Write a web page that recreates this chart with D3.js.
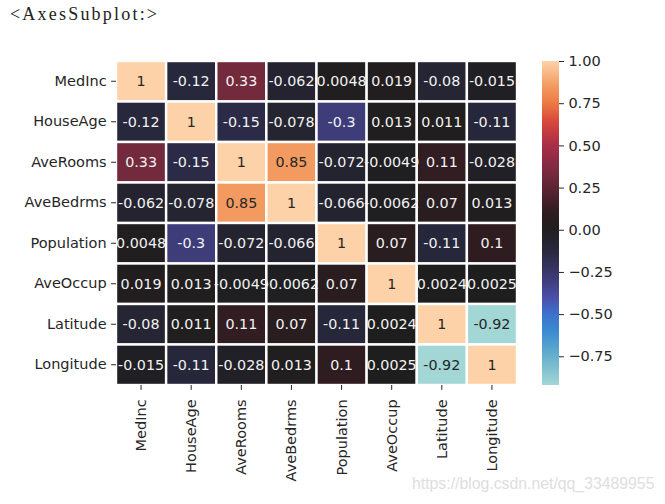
<!DOCTYPE html>
<html>
<head>
<meta charset="utf-8">
<script src="https://cdn.jsdelivr.net/npm/d3@7"></script>
<style>
  html, body { margin: 0; padding: 0; background: #fff; }
  svg { display: block; }
</style>
</head>
<body>
<svg id="chart" width="665" height="504"></svg>
<script>
// ---- data ----
const categories = ["MedInc", "HouseAge", "AveRooms", "AveBedrms", "Population", "AveOccup", "Latitude", "Longitude"];
const rowMedInc     = [1, -0.12, 0.33, -0.062, 0.0048, 0.019, -0.08, -0.015];
const rowHouseAge   = [-0.12, 1, -0.15, -0.078, -0.3, 0.013, 0.011, -0.11];
const rowAveRooms   = [0.33, -0.15, 1, 0.85, -0.072, -0.0049, 0.11, -0.028];
const rowAveBedrms  = [-0.062, -0.078, 0.85, 1, -0.066, -0.0062, 0.07, 0.013];
const rowPopulation = [0.0048, -0.3, -0.072, -0.066, 1, 0.07, -0.11, 0.1];
const rowAveOccup   = [0.019, 0.013, -0.0049, -0.0062, 0.07, 1, 0.0024, 0.0025];
const rowLatitude   = [-0.08, 0.011, 0.11, 0.07, -0.11, 0.0024, 1, -0.92];
const rowLongitude  = [-0.015, -0.11, -0.028, 0.013, 0.1, 0.0025, -0.92, 1];
const matrix = [rowMedInc, rowHouseAge, rowAveRooms, rowAveBedrms, rowPopulation, rowAveOccup, rowLatitude, rowLongitude];
const colorbarTicks = [-0.75, -0.5, -0.25, 0, 0.25, 0.5, 0.75, 1];
const vmin = -0.92, vmax = 1;
const titleText = "<AxesSubplot:>";
const watermark = "https://blog.csdn.net/qq_33489955";

// icefire-like palette (position t in [0,1])
const icefireT = [0, 0.04, 0.125, 0.2, 0.25, 0.3, 0.35, 0.44, 0.5, 0.55, 0.665, 0.75, 0.82, 0.875, 0.925, 1];
const icefireC = ["#b6e4da", "#a2d7d6", "#66b0cc", "#3a8ad0", "#3d71cd", "#4a4fa8", "#3f3c7a", "#28283d", "#1f1e1f", "#2f1c21", "#742a3d", "#a82d48", "#d8473a", "#ec7a45", "#f29a60", "#fed2a8"];

// ---- drawing ----
(function () {
const svg = d3.select("#chart");
const font = "'DejaVu Sans', sans-serif";
const textColor = "#262626";
const fs = "14.5px";

const icefire = d3.scaleLinear().domain(icefireT).range(icefireC).interpolate(d3.interpolateRgb);
// seaborn center=0 remap: value -> (v+1)/2 on the colormap
const color = v => icefire((v + 1) / 2);

const pLeft = 116, pRight = 517, pTop = 61, pBottom = 385;
const x = d3.scaleBand().domain(categories).range([pLeft, pRight]);
const y = d3.scaleBand().domain(categories).range([pTop, pBottom]);

const locale = d3.formatLocale({decimal: ".", thousands: ",", grouping: [3], currency: ["$", ""], minus: "-"});
const fmtAnnot = locale.format(".2~g");

const cells = [];
matrix.forEach((row, i) => row.forEach((v, j) => cells.push({r: categories[i], c: categories[j], v})));

const g = svg.append("g");
g.selectAll("rect.cell").data(cells).join("rect")
  .attr("class", "cell")
  .attr("x", d => x(d.c))
  .attr("y", d => y(d.r))
  .attr("width", x.bandwidth())
  .attr("height", y.bandwidth())
  .attr("fill", d => color(d.v))
  .attr("stroke", "#fff")
  .attr("stroke-width", 2.4);

function lum(c) {
  const rgb = d3.rgb(c);
  const f = u => { u /= 255; return u <= 0.03928 ? u / 12.92 : Math.pow((u + 0.055) / 1.055, 2.4); };
  return 0.2126 * f(rgb.r) + 0.7152 * f(rgb.g) + 0.0722 * f(rgb.b);
}

g.selectAll("text.annot").data(cells).join("text")
  .attr("class", "annot")
  .attr("x", d => x(d.c) + x.bandwidth() / 2)
  .attr("y", d => y(d.r) + y.bandwidth() / 2)
  .attr("text-anchor", "middle")
  .attr("dominant-baseline", "central")
  .attr("font-family", font)
  .attr("font-size", "14.3px")
  .attr("fill", d => lum(color(d.v)) > 0.408 ? textColor : "#f2f2f2")
  .text(d => fmtAnnot(d.v));

// y axis
const yAxis = d3.axisLeft(y).tickSize(4.9).tickPadding(4.5);
const ya = svg.append("g").attr("transform", `translate(${pLeft},0)`).call(yAxis);
ya.select(".domain").remove();
ya.selectAll(".tick line").attr("stroke", textColor).attr("stroke-width", 1);
ya.selectAll(".tick text").attr("font-family", font).attr("font-size", fs).attr("fill", textColor);

// x axis
const xAxis = d3.axisBottom(x).tickSize(4.9).tickPadding(4.5);
const xa = svg.append("g").attr("transform", `translate(0,${pBottom})`).call(xAxis);
xa.select(".domain").remove();
xa.selectAll(".tick line").attr("stroke", textColor).attr("stroke-width", 1);
xa.selectAll(".tick text")
  .attr("font-family", font).attr("font-size", fs).attr("fill", textColor)
  .attr("text-anchor", "end")
  .attr("dy", null)
  .attr("dominant-baseline", "central")
  .attr("transform", "rotate(-90)")
  .attr("x", -(4.9 + 9.5))
  .attr("y", 0);

// colorbar
const cbX = 542, cbW = 17;
const cy = d3.scaleLinear().domain([vmin, vmax]).range([pBottom, pTop]);
const defs = svg.append("defs");
const grad = defs.append("linearGradient").attr("id", "cbgrad")
  .attr("x1", 0).attr("y1", 1).attr("x2", 0).attr("y2", 0);
const nStops = 64;
grad.selectAll("stop").data(d3.range(nStops + 1)).join("stop")
  .attr("offset", k => k / nStops)
  .attr("stop-color", k => color(vmin + (vmax - vmin) * k / nStops));
svg.append("rect")
  .attr("x", cbX).attr("y", cy(vmax))
  .attr("width", cbW).attr("height", cy(vmin) - cy(vmax))
  .attr("fill", "url(#cbgrad)");

const cAxis = d3.axisRight(cy).tickValues(colorbarTicks).tickFormat(d3.format(".2f")).tickSize(4.9).tickPadding(4.5);
const ca = svg.append("g").attr("transform", `translate(${cbX + cbW},0)`).call(cAxis);
ca.select(".domain").remove();
ca.selectAll(".tick line").attr("stroke", textColor).attr("stroke-width", 1);
ca.selectAll(".tick text").attr("font-family", font).attr("font-size", fs).attr("fill", textColor);

// title (notebook output text, serif monospace-like look)
svg.append("text")
  .attr("x", 10).attr("y", 20)
  .attr("font-family", "'Liberation Serif', serif")
  .attr("font-size", "18px")
  .attr("fill", "#222")
  .attr("textLength", 147)
  .attr("lengthAdjust", "spacing")
  .text(titleText);

// watermark
svg.append("text")
  .attr("x", 412).attr("y", 489)
  .attr("font-family", "'Liberation Sans', Arial, sans-serif")
  .attr("font-size", "15.8px")
  .attr("fill", "#dedede")
  .text(watermark);
})();
</script>
</body>
</html>
